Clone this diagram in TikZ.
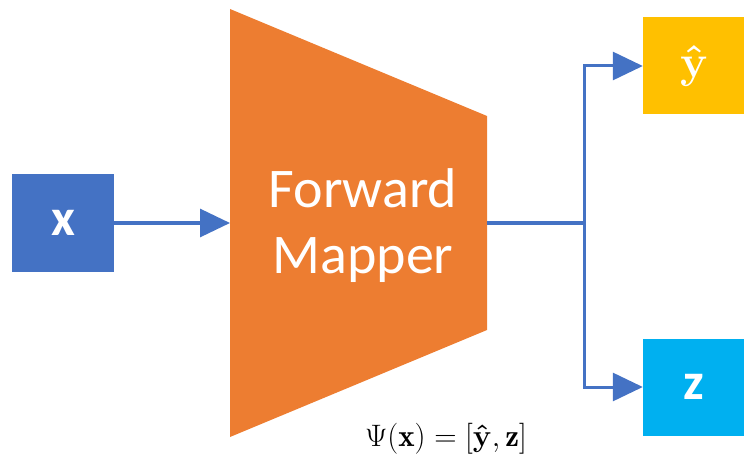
\RequirePackage{fix-cm}
\documentclass[tikz,border=0pt]{standalone}
\usepackage{amsmath}
\usepackage{fontspec}
\setsansfont{Carlito}
\usetikzlibrary{arrows.meta}

\definecolor{inblue}{HTML}{4472C4}
\definecolor{maporange}{HTML}{ED7D31}
\definecolor{yhatgold}{HTML}{FFC000}
\definecolor{zcyan}{HTML}{00B0F0}

\begin{document}
\begin{tikzpicture}[x=1pt,y=-1pt,
    box/.style={minimum width=102pt,minimum height=97pt,inner sep=0pt,text=white},
    link/.style={draw=inblue,line width=3pt},
    tip/.style={-{Triangle[length=30pt,width=28pt]}}]
    \useasboundingbox (0,0) rectangle (744,457);

    % the mapper block
    \coordinate (tl) at (230,9);
    \coordinate (tr) at (487,116);
    \coordinate (br) at (487,330);
    \coordinate (bl) at (230,437);
    \fill[maporange] (tl)--(tr)--(br)--(bl)--cycle;

    \coordinate (in) at (230,223);
    \coordinate (out) at (487,223);
    \coordinate (split) at (584,223);

    \node[text=white,align=center,font=\sffamily\fontsize{56}{66}\selectfont] (mapper) at (363,226) {Forward\\Mapper};

    \node[box,fill=inblue,font=\sffamily\bfseries\fontsize{52}{52}\selectfont] (x) at (63,223) {x};
    \node[box,fill=yhatgold,font=\fontsize{46}{46}\selectfont] (yhat) at (694,66) {$\boldsymbol{\hat{\mathbf{y}}}$};
    \node[box,fill=zcyan,font=\sffamily\bfseries\fontsize{52}{52}\selectfont] (z) at (694,387) {z};

    \draw[link,tip] (x) -- (in);
    \draw[link] (out) -- (split);
    \draw[link,tip] (split) |- (yhat);
    \draw[link,tip] (split) |- (z);

    \node[anchor=base,font=\fontsize{31}{31}\selectfont] (psi) at (446,446) {$\Psi(\mathbf{x}) = [\boldsymbol{\hat{\mathbf{y}}}, \mathbf{z}]$};
\end{tikzpicture}
\end{document}
